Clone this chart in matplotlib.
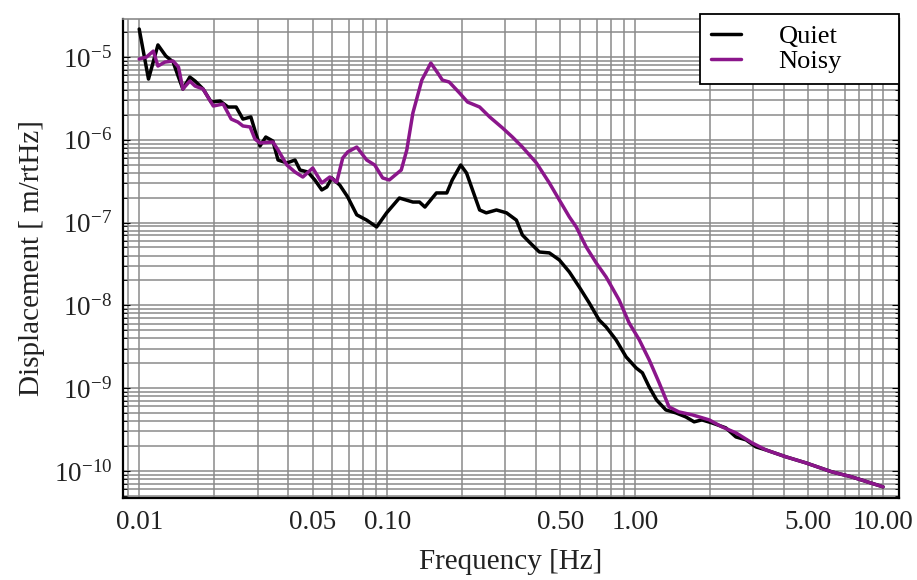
import matplotlib
matplotlib.use('Agg')
import matplotlib.pyplot as plt
from matplotlib.ticker import FixedLocator, FixedFormatter, LogLocator, NullFormatter

plt.rcParams['font.family'] = ['Liberation Serif', 'DejaVu Serif']
plt.rcParams['mathtext.fontset'] = 'custom'
plt.rcParams['mathtext.rm'] = 'Liberation Serif'
plt.rcParams['mathtext.it'] = 'Liberation Serif:italic'
plt.rcParams['mathtext.bf'] = 'Liberation Serif:bold'

# -----------------------------
# Data
# -----------------------------
quiet_f = [0.0100, 0.0109, 0.0119, 0.0128, 0.0137, 0.0144, 0.0150, 0.0160, 0.0168, 0.0181,
           0.0195, 0.0212, 0.0228, 0.0246, 0.0262, 0.0282, 0.0296, 0.0307, 0.0324, 0.0346,
           0.0363, 0.0394, 0.0425, 0.0445, 0.0479, 0.0511, 0.0545, 0.0571, 0.0598, 0.0644,
           0.0693, 0.0754, 0.0827, 0.0907, 0.0995, 0.112, 0.127, 0.135, 0.142, 0.158,
           0.174, 0.183, 0.198, 0.209, 0.236, 0.251, 0.276, 0.303, 0.332, 0.351,
           0.374, 0.411, 0.451, 0.495, 0.543, 0.595, 0.653, 0.716, 0.764, 0.838,
           0.920, 1.01, 1.07, 1.14, 1.22, 1.33, 1.46, 1.60, 1.73, 1.86,
           2.04, 2.32, 2.55, 2.80, 3.07, 3.37, 4.05, 4.88, 6.21, 7.47, 10.0]
quiet_d = [2.18e-5, 5.42e-6, 1.40e-5, 1.03e-5, 8.70e-6, 5.73e-6, 4.11e-6, 5.73e-6, 5.13e-6, 4.11e-6,
           2.86e-6, 2.94e-6, 2.49e-6, 2.49e-6, 1.78e-6, 1.89e-6, 1.17e-6, 8.42e-7, 1.08e-6, 9.67e-7,
           5.70e-7, 5.25e-7, 5.70e-7, 4.32e-7, 4.08e-7, 3.27e-7, 2.48e-7, 2.69e-7, 3.46e-7, 2.84e-7,
           2.04e-7, 1.24e-7, 1.07e-7, 8.85e-8, 1.31e-7, 1.98e-7, 1.77e-7, 1.77e-7, 1.54e-7, 2.28e-7,
           2.28e-7, 3.27e-7, 4.96e-7, 3.97e-7, 1.42e-7, 1.31e-7, 1.42e-7, 1.31e-7, 1.07e-7, 7.08e-8,
           5.83e-8, 4.41e-8, 4.30e-8, 3.53e-8, 2.53e-8, 1.67e-8, 1.07e-8, 6.66e-9, 5.48e-9, 3.82e-9,
           2.38e-9, 1.75e-9, 1.53e-9, 1.03e-9, 7.20e-10, 5.45e-10, 5.02e-10, 4.49e-10, 3.91e-10, 4.13e-10,
           3.80e-10, 3.31e-10, 2.57e-10, 2.37e-10, 1.95e-10, 1.79e-10, 1.48e-10, 1.25e-10, 9.73e-11, 8.46e-11, 6.41e-11]

noisy_f = [0.0100, 0.0107, 0.0114, 0.0119, 0.0127, 0.0137, 0.0144, 0.0150, 0.0160, 0.0168,
           0.0181, 0.0199, 0.0218, 0.0235, 0.0250, 0.0262, 0.0280, 0.0293, 0.0307, 0.0346,
           0.0363, 0.0394, 0.0425, 0.0457, 0.0501, 0.0545, 0.0587, 0.0626, 0.0662, 0.0693,
           0.0754, 0.0827, 0.0891, 0.0959, 0.102, 0.114, 0.120, 0.127, 0.138, 0.150,
           0.160, 0.167, 0.178, 0.196, 0.211, 0.236, 0.259, 0.292, 0.320, 0.351,
           0.400, 0.451, 0.495, 0.543, 0.579, 0.635, 0.697, 0.764, 0.862, 0.946,
           1.04, 1.14, 1.25, 1.37, 1.50, 1.70, 1.99, 2.24, 2.55, 2.96,
           3.37, 4.05, 4.88, 6.21, 7.47, 10.0]
noisy_d = [9.46e-6, 1.00e-5, 1.18e-5, 7.79e-6, 8.70e-6, 8.95e-6, 7.57e-6, 4.11e-6, 5.13e-6, 4.46e-6,
           4.11e-6, 2.56e-6, 2.71e-6, 1.78e-6, 1.64e-6, 1.47e-6, 1.43e-6, 1.02e-6, 9.15e-7, 9.40e-7,
           7.53e-7, 4.96e-7, 4.08e-7, 3.55e-7, 4.56e-7, 3.01e-7, 3.55e-7, 3.09e-7, 6.03e-7, 7.12e-7,
           8.18e-7, 5.70e-7, 4.96e-7, 3.46e-7, 3.27e-7, 4.32e-7, 7.53e-7, 2.11e-6, 5.27e-6, 8.46e-6,
           6.41e-6, 5.27e-6, 4.99e-6, 3.67e-6, 2.86e-6, 2.49e-6, 1.89e-6, 1.39e-6, 1.08e-6, 8.18e-7,
           5.25e-7, 3.01e-7, 1.87e-7, 1.17e-7, 8.85e-8, 5.07e-8, 3.25e-8, 2.20e-8, 1.16e-8, 6.13e-9,
           3.82e-9, 2.19e-9, 1.16e-9, 5.93e-10, 5.16e-10, 4.75e-10, 4.13e-10, 3.40e-10, 2.88e-10, 2.18e-10,
           1.79e-10, 1.48e-10, 1.25e-10, 9.73e-11, 8.46e-11, 6.41e-11]

x_ticks = [0.01, 0.05, 0.1, 0.5, 1.0, 5.0, 10.0]
x_tick_labels = ['0.01', '0.05', '0.10', '0.50', '1.00', '5.00', '10.00']
y_ticks = [1e-10, 1e-9, 1e-8, 1e-7, 1e-6, 1e-5]
y_tick_labels = [r'$10^{-10}$', r'$10^{-9}$', r'$10^{-8}$', r'$10^{-7}$', r'$10^{-6}$', r'$10^{-5}$']

# -----------------------------
# Plot
# -----------------------------
fig = plt.figure(figsize=(9.17, 5.8), dpi=100)
ax = fig.add_axes([0.1341, 0.1414, 0.8463, 0.8258])

ax.plot(quiet_f, quiet_d, color='black', lw=2.5, label='Quiet',
        solid_joinstyle='round', solid_capstyle='round', zorder=3)
ax.plot(noisy_f, noisy_d, color='#8b168b', lw=2.5, label='Noisy',
        solid_joinstyle='round', solid_capstyle='round', zorder=4)

ax.set_xscale('log')
ax.set_yscale('log')
ax.set_xlim(0.0086, 11.6)
ax.set_ylim(4.7e-11, 2.88e-5)

ax.xaxis.set_major_locator(FixedLocator(x_ticks))
ax.xaxis.set_major_formatter(FixedFormatter(x_tick_labels))
ax.xaxis.set_minor_locator(LogLocator(base=10, subs=range(2, 10)))
ax.xaxis.set_minor_formatter(NullFormatter())
ax.yaxis.set_major_locator(FixedLocator(y_ticks))
ax.yaxis.set_major_formatter(FixedFormatter(y_tick_labels))
ax.yaxis.set_minor_locator(LogLocator(base=10, subs=range(2, 10), numticks=20))
ax.yaxis.set_minor_formatter(NullFormatter())

ax.grid(True, which='both', color='#8a8a8a', lw=1.1)
ax.tick_params(axis='both', which='both', direction='in', colors='black', labelcolor='#222222')
ax.tick_params(axis='y', which='both', right=True)
ax.tick_params(axis='y', which='major', length=5, pad=8, labelsize=19.5)
ax.tick_params(axis='y', which='minor', length=3)
ax.tick_params(axis='x', which='major', length=0, pad=9, labelsize=19.5)
ax.tick_params(axis='x', which='minor', length=0)

for side in ['left', 'bottom', 'right']:
    ax.spines[side].set_linewidth(1.6)
    ax.spines[side].set_color('black')
ax.spines['top'].set_color('#8a8a8a')
ax.spines['top'].set_linewidth(1.2)

ax.set_xlabel('Frequency [Hz]', fontsize=21, color='#222222', labelpad=10)
ax.set_ylabel('Displacement [ m/rtHz]', fontsize=21, color='#222222', labelpad=6)

# legend box spans from x=0.7436 to the right spine, poking a bit above the top
leg = ax.legend(loc='upper right', bbox_to_anchor=(0.7436, 0.0, 0.2564, 1.011), mode='expand',
                borderaxespad=0, fancybox=False, edgecolor='black', framealpha=1, fontsize=19,
                handlelength=1.15, handletextpad=1.4, borderpad=0.42, labelspacing=0.05)
leg.get_frame().set_linewidth(1.3)
leg.set_zorder(10)

fig.savefig('out.png', dpi=100)
